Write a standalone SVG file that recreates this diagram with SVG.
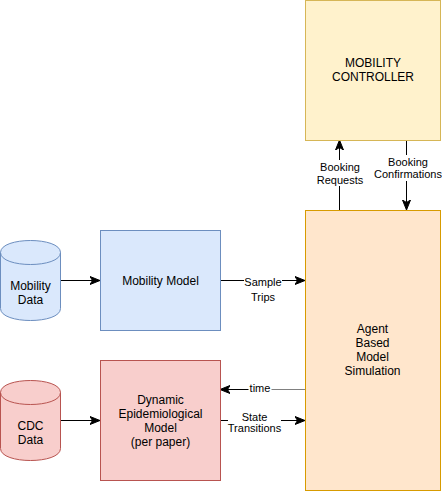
<svg xmlns="http://www.w3.org/2000/svg" width="442" height="491" viewBox="0 0 442 491">
<style>
text{font-family:"Liberation Sans",Arial,Helvetica,sans-serif;fill:#000;text-anchor:middle}
.n{font-size:12px}
.l{font-size:11px}
.e{fill:none;stroke:#000;stroke-width:1}
.bg{fill:#fff}
</style>
<defs>
<marker id="arr" viewBox="0 0 10 10" refX="9" refY="5" markerWidth="10" markerHeight="10" markerUnits="userSpaceOnUse" orient="auto">
<path d="M0,1 L10,5 L0,9 L2.5,5 Z" fill="#000" stroke="#000" stroke-width="1"/>
</marker>
</defs>
<rect width="442" height="491" fill="#fff"/>
<g id="connectors">
<line class="e" x1="339.5" y1="210" x2="339.5" y2="141" marker-end="url(#arr)"/>
<line class="e" x1="406.5" y1="140" x2="406.5" y2="209" marker-end="url(#arr)"/>
<line class="e" x1="60" y1="280.5" x2="99" y2="280.5" marker-end="url(#arr)"/>
<line class="e" x1="220" y1="280.5" x2="304" y2="280.5" marker-end="url(#arr)"/>
<line class="e" x1="60" y1="420.5" x2="99" y2="420.5" marker-end="url(#arr)"/>
<line x1="305" y1="389.5" x2="260" y2="389.5" stroke="#808080" stroke-width="1"/>
<line class="e" x1="260" y1="389.5" x2="221" y2="389.5" marker-end="url(#arr)"/>
<line class="e" x1="220" y1="420.5" x2="304" y2="420.5" marker-end="url(#arr)"/>
<rect class="bg" x="318" y="160" width="44" height="26"/>
<text class="l" x="340" y="170.5">Booking</text>
<text class="l" x="340" y="184">Requests</text>
<rect class="bg" x="374" y="155" width="68" height="26"/>
<text class="l" x="408" y="165.5">Booking</text>
<text class="l" x="408" y="178">Confirmations</text>
<rect class="bg" x="244" y="276" width="38" height="26"/>
<text class="l" x="263" y="286">Sample</text>
<text class="l" x="263" y="300.5">Trips</text>
<rect class="bg" x="248.5" y="383" width="23" height="12"/>
<text class="l" x="260" y="392">time</text>
<rect class="bg" x="228" y="410" width="53" height="26"/>
<text class="l" x="254.5" y="420.5">State</text>
<text class="l" x="254.5" y="432">Transitions</text>
</g>
<g id="mobility-controller">
<rect x="305.5" y="0.5" width="135" height="140" fill="#fff2cc" stroke="#d6b656"/>
<text class="n" x="373" y="67">MOBILITY</text>
<text class="n" x="373" y="81">CONTROLLER</text>
</g>
<g id="abm">
<rect x="305.5" y="210.5" width="135" height="280" fill="#ffe6cc" stroke="#d79b00"/>
<text class="n" x="372.5" y="333">Agent</text>
<text class="n" x="372.5" y="347">Based</text>
<text class="n" x="372.5" y="361">Model</text>
<text class="n" x="372.5" y="375">Simulation</text>
</g>
<g id="mobility-model">
<rect x="100.5" y="230.5" width="120" height="100" fill="#dae8fc" stroke="#6c8ebf"/>
<text class="n" x="160.5" y="285">Mobility Model</text>
</g>
<g id="epi-model">
<rect x="100.5" y="360.5" width="120" height="120" fill="#f8cecc" stroke="#b85450"/>
<text class="n" x="160.5" y="404">Dynamic</text>
<text class="n" x="160.5" y="418">Epidemiological</text>
<text class="n" x="160.5" y="432">Model</text>
<text class="n" x="160.5" y="446">(per paper)</text>
</g>
<g id="mobility-data">
<path d="M0.5,252.5 C0.5,236.5 60.5,236.5 60.5,252.5 L60.5,308.5 C60.5,324.5 0.5,324.5 0.5,308.5 Z" fill="#dae8fc" stroke="#6c8ebf"/>
<path d="M0.5,252.5 C0.5,268.5 60.5,268.5 60.5,252.5" fill="none" stroke="#6c8ebf"/>
<text class="n" x="30.5" y="290">Mobility</text>
<text class="n" x="30.5" y="304">Data</text>
</g>
<g id="cdc-data">
<path d="M0.5,392.5 C0.5,376.5 60.5,376.5 60.5,392.5 L60.5,448.5 C60.5,464.5 0.5,464.5 0.5,448.5 Z" fill="#f8cecc" stroke="#b85450"/>
<path d="M0.5,392.5 C0.5,408.5 60.5,408.5 60.5,392.5" fill="none" stroke="#b85450"/>
<text class="n" x="30.5" y="430">CDC</text>
<text class="n" x="30.5" y="444">Data</text>
</g>
</svg>
